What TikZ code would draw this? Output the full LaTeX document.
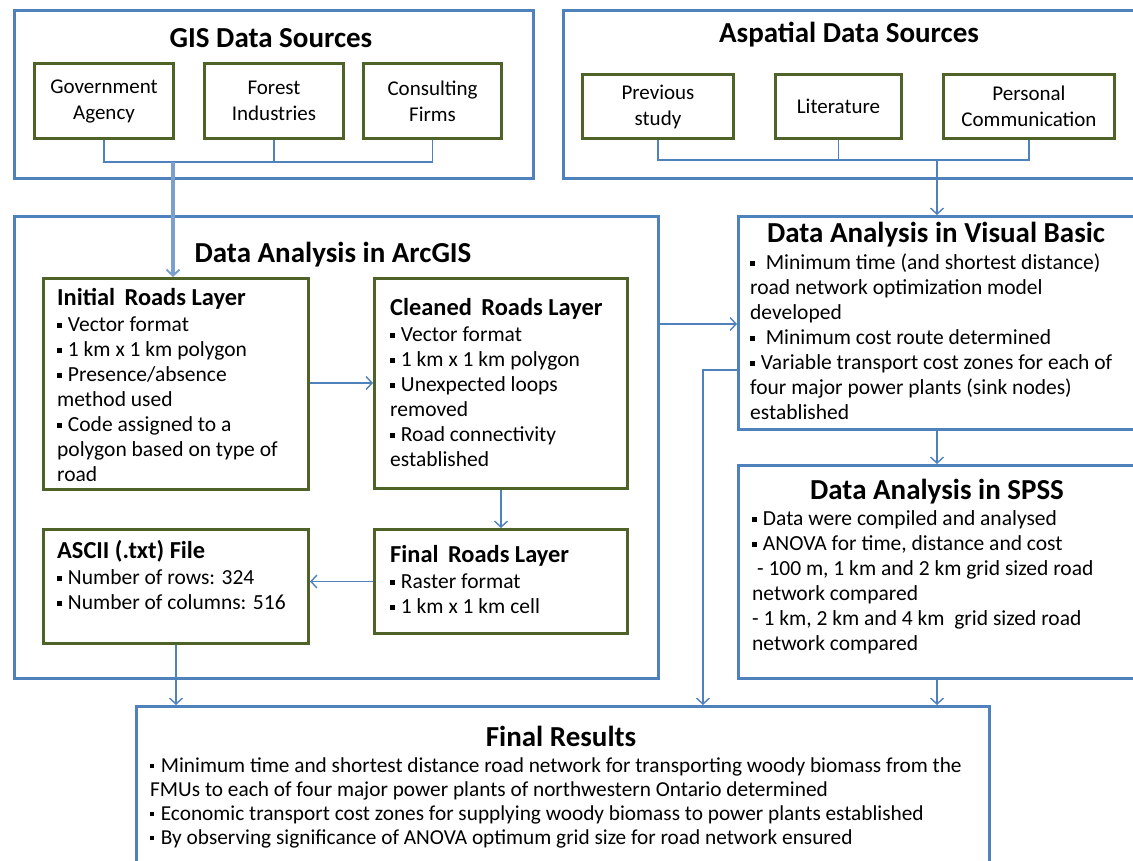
\documentclass[tikz,border=0pt]{standalone}
\usepackage{fontspec}
\setmainfont{Carlito}
\usetikzlibrary{arrows.meta}
\definecolor{obl}{HTML}{4F81BD}
\definecolor{ogr}{HTML}{4F6228}
\newcommand{\bul}{\rule[0.17em]{0.2em}{0.2em}\hspace{0.3em}}
\begin{document}
\begin{tikzpicture}[x=1pt,y=-1pt,
  outerbox/.style={draw=obl,line width=3pt,inner sep=0pt,anchor=north west},
  srcbox/.style={draw=ogr,line width=3pt,inner sep=0pt,anchor=north west,align=center,font=\fontsize{21}{26}\selectfont},
  innerbox/.style={draw=ogr,line width=3pt,inner sep=0pt,anchor=north west},
  bigtitle/.style={font=\bfseries\fontsize{29}{34}\selectfont,anchor=base,inner sep=0pt},
  subtitle/.style={font=\bfseries\fontsize{24.4}{29}\selectfont,anchor=base west,inner sep=0pt},
  body/.style={font=\fontsize{21.5}{25}\selectfont,anchor=north west,align=left,inner sep=0pt},
  conn/.style={draw=obl,line width=1.4pt},
  arr/.style={conn,-{Straight Barb[length=6pt,width=13pt,line width=1.4pt]}}
]
\useasboundingbox (0,0) rectangle (1133,860);
\clip (0,0) rectangle (1133,860);

% ---------- GIS data sources ----------
\node[outerbox,minimum width=519,minimum height=168] (gis) at (13,9) {};
\node[bigtitle] (gist) at (271,47) {GIS Data Sources};
\node[srcbox,minimum width=139,minimum height=75] (gov) at (33,62) {Government\\Agency};
\node[srcbox,minimum width=139,minimum height=75] (forest) at (203,62) {Forest\\Industries};
\node[srcbox,minimum width=138,minimum height=75] (cons) at (362,62) {Consulting\\Firms};

% ---------- Aspatial data sources ----------
\node[outerbox,minimum width=588,minimum height=168] (asp) at (562,9) {};
\node[bigtitle] (aspt) at (849,42) {Aspatial Data Sources};
\node[srcbox,minimum width=151,minimum height=64] (prev) at (581,73) {Previous\\study};
\node[srcbox,minimum width=126,minimum height=64] (lit) at (774,73) {Literature};
\node[srcbox,minimum width=171,minimum height=64] (pers) at (942,73) {Personal\\Communication};

% ---------- ArcGIS ----------
\node[outerbox,minimum width=644,minimum height=462] (arc) at (13,215) {};
\node[bigtitle] (arct) at (333,262) {Data Analysis in ArcGIS};

\node[innerbox,minimum width=265,minimum height=211] (init) at (42,277) {};
\node[subtitle] (initt) at (57,305.5) {Initial\, Roads Layer};
\node[body] (initb) at (57,313.5) {\strut\bul Vector format\\\bul 1 km x 1 km polygon\\\bul Presence/absence\\method used\\\bul Code assigned to a\\polygon based on type of\\road};

\node[innerbox,minimum width=253,minimum height=210] (clean) at (373,277) {};
\node[subtitle] (cleant) at (390,315) {Cleaned\, Roads Layer};
\node[body] (cleanb) at (390,323.5) {\strut\bul Vector format\\\bul 1 km x 1 km polygon\\\bul Unexpected loops\\removed\\\bul Road connectivity\\established};

\node[innerbox,minimum width=253,minimum height=104] (froad) at (373,528) {};
\node[subtitle] (froadt) at (390,562) {Final\, Roads Layer};
\node[body] (froadb) at (390,570.5) {\strut\bul Raster format\\\bul 1 km x 1 km cell};

\node[innerbox,minimum width=265,minimum height=114] (ascii) at (42,528) {};
\node[subtitle] (asciit) at (57,558) {ASCII (.txt) File};
\node[body] (asciib) at (57,566.5) {\strut\bul Number of rows: 324\\\bul Number of columns: 516};

% ---------- Visual Basic ----------
\node[outerbox,minimum width=413,minimum height=213] (vb) at (737,215) {};
\node[bigtitle] (vbt) at (936,242) {Data Analysis in Visual Basic};
\node[body] (vbb) at (750,251.5) {\strut\bul\ Minimum time (and shortest distance)\\road network optimization model\\developed\\\bul\ Minimum cost route determined\\\bul Variable transport cost zones\ for each of\\four major power plants (sink nodes)\\established};

% ---------- SPSS ----------
\node[outerbox,minimum width=413,minimum height=213] (spss) at (737,464) {};
\node[bigtitle] (spsst) at (937,499) {Data Analysis in SPSS};
\node[body] (spssb) at (752,507.5) {\strut\bul Data were compiled and analysed\\\bul ANOVA for time, distance and cost\\\ - 100 m, 1 km and 2 km grid sized road\\network compared\\- 1 km, 2 km and 4 km\ \ grid sized road\\network compared};

% ---------- Final results ----------
\node[outerbox,minimum width=853,minimum height=175] (res) at (135,705) {};
\node[bigtitle] (rest) at (561,746) {Final Results};
\node[body,font=\fontsize{21.3}{24}\selectfont] (resb) at (150,755) {\strut\bul Minimum time and shortest distance road network for transporting woody biomass from the\\FMUs to each of four major power plants of northwestern Ontario determined\\\bul Economic transport cost zones for supplying woody biomass to power plants established\\\bul By observing significance of ANOVA optimum grid size for road network ensured};

% ---------- connectors ----------
\coordinate (gj) at (173,162);
\coordinate (aj) at (937,160);
\coordinate (y324) at (0,324);
\coordinate (y383) at (0,383);
\coordinate (vbturn) at (703,370);

\draw[conn] (gov.south) |- (gj);
\draw[conn] (cons.south) |- (gj);
\draw[conn] (forest.south) -- (forest.south |- gj);
\draw[draw=obl!75,line width=3.2pt,-{Straight Barb[length=6pt,width=13pt,line width=2pt]}] (gj) -- (gj |- init.north);

\draw[conn] (prev.south) |- (aj);
\draw[conn] (pers.south) |- (aj);
\draw[conn] (lit.south) -- (lit.south |- aj);
\draw[arr,line width=2pt] (aj) -- (aj |- vb.north);

\draw[arr] (init.east |- y383) -- (clean.west |- y383);
\draw[arr] (clean.south) -- (clean.south |- froad.north);
\draw[arr] (froad.west) -- (ascii.east |- froad.west);
\draw[arr] (ascii.south) -- (ascii.south |- res.north);
\draw[arr] (arc.east |- y324) -- (vb.west |- y324);
\draw[arr] (vb.west |- vbturn) -| (vbturn |- res.north);
\draw[arr] (aj |- vb.south) -- (aj |- spss.north);
\draw[arr] (aj |- spss.south) -- (aj |- res.north);
\end{tikzpicture}
\end{document}
